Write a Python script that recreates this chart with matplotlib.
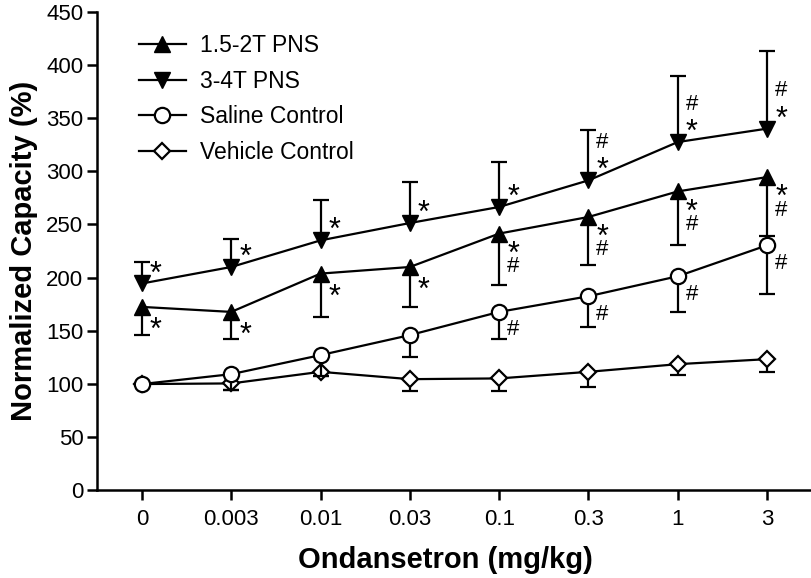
import numpy as np
import matplotlib
matplotlib.use("Agg")
import matplotlib.pyplot as plt

plt.rcParams['font.family'] = ['Liberation Sans', 'DejaVu Sans']

# ---------------- data ----------------
doses = ["0", "0.003", "0.01", "0.03", "0.1", "0.3", "1", "3"]

pns_low = [172.5, 167.8, 203.8, 210.0, 241.4, 257.0, 281.0, 294.5]      # 1.5-2T PNS
pns_low_err = [26, 25, 41, 38, 48, 45, 50, 55]                          # downward

pns_high = [194.5, 210.0, 235.0, 251.3, 266.4, 291.4, 327.4, 340.0]     # 3-4T PNS
pns_high_err = [20, 26, 38, 39, 42, 47, 62, 73]                         # upward

saline = [100.0, 109.3, 127.2, 146.0, 167.8, 182.5, 201.3, 230.4]
saline_err = [0, 15, 20, 21, 25, 29, 33.5, 46]                          # downward

vehicle = [100.0, 100.6, 111.5, 104.6, 105.3, 111.5, 118.7, 123.4]
vehicle_err = [0, 6, 4, 11, 11.5, 14, 10, 12.5]                         # downward

# significance marks
high_marks = ["*", "*", "*", "*", "*", "#*", "#*", "#*"]   # 3-4T, above
low_marks = ["*", "*", "*", "*", "*#", "*#", "*#", "*#"]   # 1.5-2T, below
saline_marks = ["", "", "", "", "#", "#", "#", "#"]         # saline, below

series_labels = ["1.5-2T PNS", "3-4T PNS", "Saline Control", "Vehicle Control"]

# ---------------- figure ----------------
fig = plt.figure(figsize=(8.12, 5.78), dpi=100)
ax = fig.add_axes([0.1198, 0.1514, 0.8777, 0.8286])
x = np.arange(len(doses))

LW = 1.6
CAP = 11


def errbars(y, err, up, z):
    y = np.asarray(y, float)
    err = np.asarray(err, float)
    m = err > 0
    end = y + err if up else y - err
    ax.vlines(x[m], y[m], end[m], colors='black', lw=LW, zorder=z)
    ax.plot(x[m], end[m], ls='none', marker='_', ms=CAP, mew=LW,
            color='black', zorder=z)


# vehicle first
errbars(vehicle, vehicle_err, False, 2)
ax.plot(x, vehicle, color='black', lw=LW, marker='D', ms=8.5, mfc='white',
        mec='black', mew=LW, zorder=3, label=series_labels[3])
# saline
errbars(saline, saline_err, False, 4)
ax.plot(x, saline, color='black', lw=LW, marker='o', ms=11, mfc='white',
        mec='black', mew=LW, zorder=5, label=series_labels[2])
# 1.5-2T
errbars(pns_low, pns_low_err, False, 6)
ax.plot(x, pns_low, color='black', lw=LW, marker='^', ms=12, mfc='black',
        mec='black', zorder=7, label=series_labels[0])
# 3-4T
errbars(pns_high, pns_high_err, True, 6)
ax.plot(x, pns_high, color='black', lw=LW, marker='v', ms=12, mfc='black',
        mec='black', zorder=7, label=series_labels[1])

# annotations
STAR_FS = 22
HASH_FS = 16
DX = 14


def put(ch, xi, yi, dy):
    if ch == "*":
        ax.annotate("*", (xi, yi), xytext=(DX, dy - 17), textcoords='offset pixels',
                    ha='center', va='baseline', fontsize=STAR_FS, zorder=10)
    else:
        ax.annotate("#", (xi, yi), xytext=(DX, dy - 7.5), textcoords='offset pixels',
                    ha='center', va='baseline', fontsize=HASH_FS, zorder=10)


for xi, yi, mk in zip(x, pns_high, high_marks):
    if mk == "*":
        put("*", xi, yi, 18)
    else:
        put("#", xi, yi, 40)
        put("*", xi, yi, 18)

for xi, yi, mk in zip(x, pns_low, low_marks):
    if mk == "*":
        put("*", xi, yi, -15)
    else:
        put("*", xi, yi, -12)
        put("#", xi, yi, -31)

for xi, yi, mk in zip(x, saline, saline_marks):
    if mk:
        put("#", xi, yi, -16)

# axes styling
ax.set_xlim(-0.5, 7.48)
ax.set_ylim(0, 450)
ax.set_xticks(x)
ax.set_xticklabels(doses)
ax.set_yticks(np.arange(0, 451, 50))
for s in ['top', 'right']:
    ax.spines[s].set_visible(False)
for s in ['left', 'bottom']:
    ax.spines[s].set_linewidth(1.8)
ax.tick_params(axis='both', direction='out', length=7, width=1.8, labelsize=16)
ax.tick_params(axis='y', pad=3)
ax.tick_params(axis='x', pad=6)

ax.set_xlabel("Ondansetron (mg/kg)", fontsize=21, fontweight='bold', labelpad=12)
ax.xaxis.label.set_x(0.488)
ax.set_ylabel("Normalized Capacity (%)", fontsize=21, fontweight='bold', labelpad=6)

# legend in given order
h, l = ax.get_legend_handles_labels()
order = [l.index(s) for s in series_labels]
ax.legend([h[i] for i in order], [l[i] for i in order], loc='upper left',
          bbox_to_anchor=(0.058, 0.953), frameon=False, fontsize=16.5,
          handlelength=2.05, handletextpad=0.65, labelspacing=0.55,
          borderpad=0, borderaxespad=0)

fig.savefig("out.png", dpi=100)
